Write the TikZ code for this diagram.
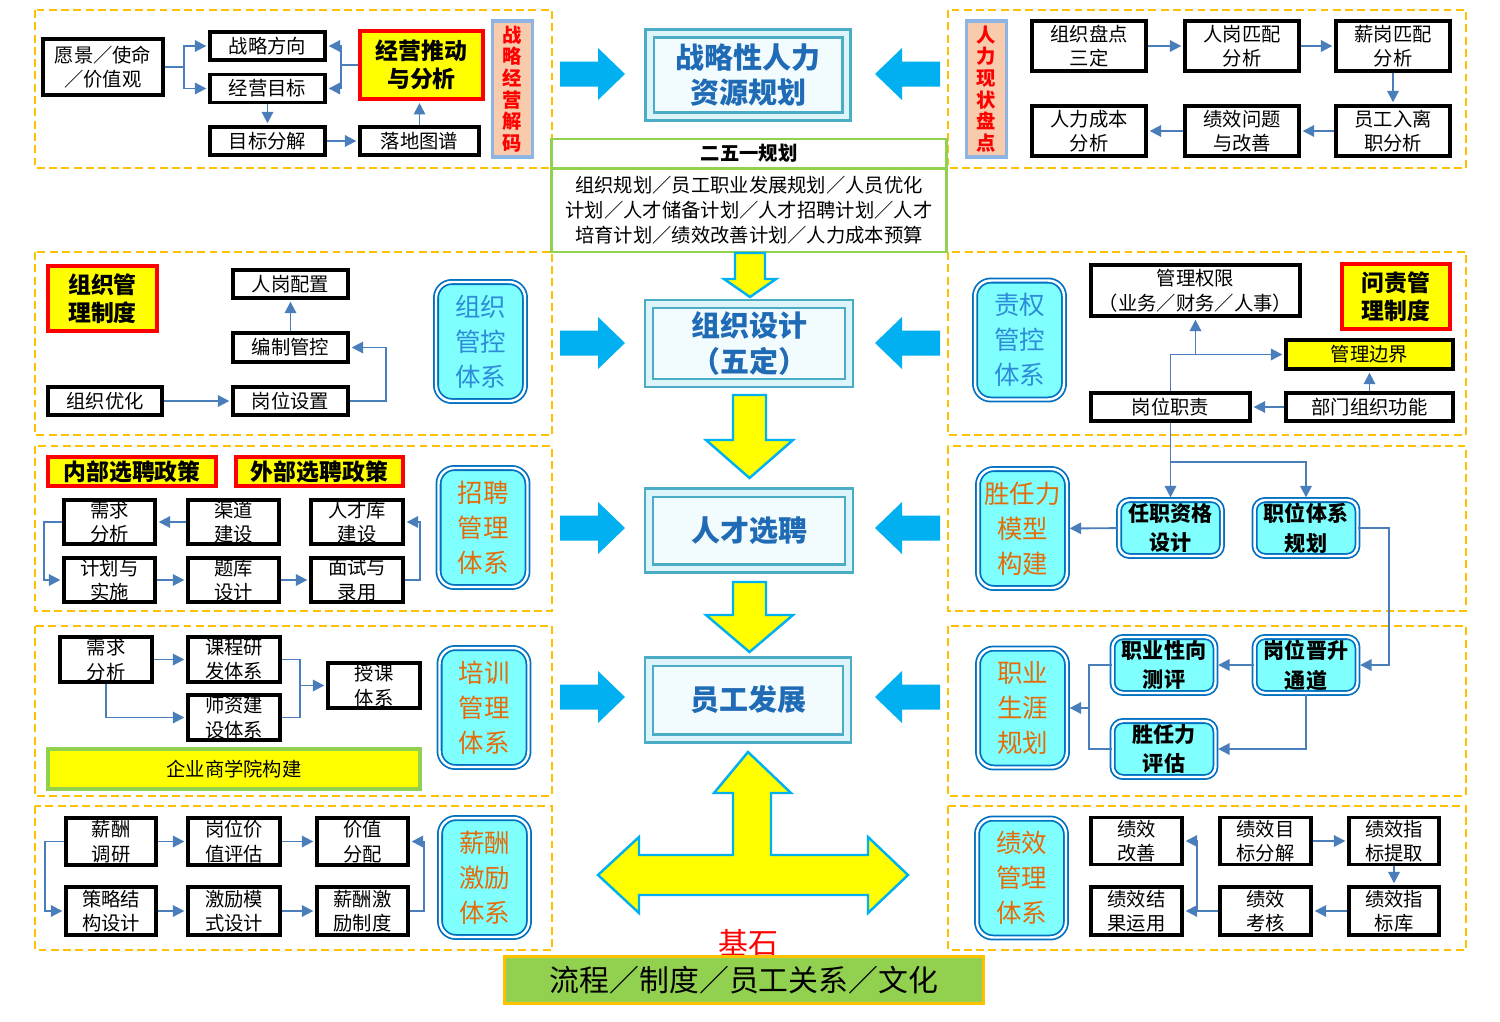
\documentclass[tikz,border=0pt]{standalone}
\usepackage{fontspec}
\setmainfont{Noto Sans CJK SC}
\usetikzlibrary{arrows.meta, shadows}
\definecolor{cFrame}{HTML}{FFC000}
\definecolor{cLine}{HTML}{4A7EBB}
\definecolor{cRed}{HTML}{FF0000}
\definecolor{cYellow}{HTML}{FFFF00}
\definecolor{cPeach}{HTML}{F8CBAD}
\definecolor{cTagLine}{HTML}{8EB4E3}
\definecolor{cGreen}{HTML}{92D050}
\definecolor{cCyan}{HTML}{80FFFF}
\definecolor{cSysLine}{HTML}{0070C0}
\definecolor{cSysBlue}{HTML}{2E8BD8}
\definecolor{cSysOrange}{HTML}{E36C0A}
\definecolor{cTeal}{HTML}{4BACC6}
\definecolor{cBand}{HTML}{DDF4FA}
\definecolor{cInner}{HTML}{F2FBFE}
\definecolor{cTitle}{HTML}{1F6BB5}
\definecolor{cBlock}{HTML}{00B0F0}
\newcommand{\fntbox}{\fontsize{11}{14}\selectfont}
\newcommand{\fntred}{\fontsize{13}{16}\selectfont}
\newcommand{\fnttag}{\fontsize{11}{12.3}\selectfont}
\newcommand{\fntsys}{\fontsize{14.5}{20}\selectfont}
\newcommand{\fntsbox}{\fontsize{12}{17}\selectfont}
\newcommand{\fnttitle}{\fontsize{16.5}{20}\selectfont}
\newcommand{\fntplan}{\fontsize{11}{14.2}\selectfont}
\newcommand{\fntbig}{\fontsize{17}{20}\selectfont}

\begin{document}
\begin{tikzpicture}[x=0.02cm, y=-0.02cm,
  region/.style={draw=cFrame, line width=1.6pt, dash pattern=on 4.5pt off 2.5pt},
  bbox/.style 2 args={draw=black, fill=white, line width=2.2pt, inner sep=0pt,
    align=center, font=\fntbox, minimum width=#1, minimum height=#2},
  rbox/.style 2 args={draw=cRed, fill=cYellow, line width=2.6pt, inner sep=0pt,
    align=center, font=\bfseries\fntred, minimum width=#1, minimum height=#2},
  tagbox/.style={draw=cTagLine, fill=cPeach, line width=2.2pt, inner sep=0pt,
    align=center, text=cRed, font=\bfseries\fnttag,
    minimum width=0.8cm, minimum height=2.72cm},
  sysbox/.style={draw=cSysLine, double=white, double distance=1.4pt, line width=1pt,
    fill=cCyan, rounded corners=9pt, align=center, font=\fntsys, text=#1,
    minimum width=1.78cm, minimum height=2.38cm, inner sep=0pt},
  sbox/.style={draw=cSysLine, double=white, double distance=1.4pt, line width=1pt,
    fill=cCyan, rounded corners=6pt, align=center, font=\bfseries\fntsbox,
    minimum width=2.06cm, minimum height=1.12cm, inner sep=0pt},
  cbox/.style 2 args={draw=cTeal, double=cBand, double distance=3.4pt, line width=1.2pt,
    fill=cInner, align=center, font=\bfseries\fnttitle, text=cTitle,
    minimum width=#1, minimum height=#2,
    drop shadow={opacity=0.35, shadow xshift=1.5pt, shadow yshift=-2pt}},
  planbox/.style={draw=cGreen, fill=white, line width=1.7pt, inner sep=0pt,
    align=center, minimum width=7.92cm},
  conn/.style={draw=cLine, line width=1.1pt, shorten >=1pt,
    -{Triangle[length=6.5pt, width=6.5pt]}},
  wire/.style={draw=cLine, line width=1.1pt},
  yarr/.style={fill=cYellow, draw=cBlock, line width=1.4pt, line join=miter},
  barrow/.pic={\fill[cBlock] (-65,-12.5) -- (-27,-12.5) -- (-27,-26) -- (0,0)
    -- (-27,26) -- (-27,12.5) -- (-65,12.5) -- cycle;}
]
\useasboundingbox (0,0) rectangle (1500,1021);

% dashed regions
\foreach \ya/\yb in {10/168, 252/435, 446/611, 626/796, 806/950} {
  \draw[region] (35,\ya) rectangle (552,\yb);
  \draw[region] (948,\ya) rectangle (1466,\yb);
}

% top left
\node[bbox={2.4cm}{1.12cm}] (vision) at (103,67) {愿景／使命\\／价值观};
\node[bbox={2.3cm}{0.56cm}] (zlfx) at (267.5,46) {战略方向};
\node[bbox={2.3cm}{0.56cm}] (jymb) at (267.5,88.5) {经营目标};
\node[rbox={2.46cm}{1.36cm}] (jytd) at (421.5,65) {经营推动\\与分析};
\node[bbox={2.3cm}{0.56cm}] (mbfj) at (267.5,141) {目标分解};
\node[bbox={2.38cm}{0.56cm}] (ldtp) at (419.5,141) {落地图谱};
\node[tagbox] (zljm) at (512.5,89) {战\\略\\经\\营\\解\\码};

% top right
\node[tagbox] (rlpd) at (986.5,89) {人\\力\\现\\状\\盘\\点};
\node[bbox={2.28cm}{1.0cm}] (zzpd) at (1089,46) {组织盘点\\三定};
\node[bbox={2.28cm}{1.0cm}] (rgpp) at (1242,46) {人岗匹配\\分析};
\node[bbox={2.28cm}{1.0cm}] (xgpp) at (1393,46) {薪岗匹配\\分析};
\node[bbox={2.28cm}{1.0cm}] (rlcb) at (1089,131) {人力成本\\分析};
\node[bbox={2.28cm}{1.0cm}] (jxwt) at (1242,131) {绩效问题\\与改善};
\node[bbox={2.28cm}{1.0cm}] (ygrl) at (1393,131) {员工入离\\职分析};

% centre column
\node[cbox={3.94cm}{1.66cm}] (zlgh) at (748,75) {战略性人力\\资源规划};
\node[planbox, minimum height=0.58cm, font=\bfseries\fntbox] (plan) at (749,153.5) {二五一规划};
\node[planbox, minimum height=1.68cm, font=\fntplan] (plantxt) at (749,210)
  {组织规划／员工职业发展规划／人员优化\\计划／人才储备计划／人才招聘计划／人才\\培育计划／绩效改善计划／人力成本预算};
\node[cbox={4.0cm}{1.58cm}] (zzsj) at (749,343.5) {组织设计\\（五定）};
\node[cbox={4.0cm}{1.52cm}] (rcxp) at (749,530.5) {人才选聘};
\node[cbox={3.96cm}{1.54cm}] (ygfz) at (748,700) {员工发展};

\foreach \y in {74, 343, 528, 697} {
  \pic at (625,\y) {barrow};
  \pic[rotate=180] at (875,\y) {barrow};
}

\draw[yarr] (735,253) -- (765,253) -- (765,279) -- (776,279) -- (750,297)
  -- (724,279) -- (735,279) -- cycle;
\draw[yarr] (733,395) -- (766,395) -- (766,440) -- (793,440) -- (749.5,478)
  -- (706,440) -- (733,440) -- cycle;
\draw[yarr] (733,582) -- (766,582) -- (766,615) -- (793,615) -- (749.5,652)
  -- (706,615) -- (733,615) -- cycle;
\draw[yarr] (748,752) -- (791,793) -- (771,793) -- (771,855) -- (868,855)
  -- (868,837) -- (908,875) -- (868,913) -- (868,895) -- (639,895)
  -- (639,913) -- (598,875) -- (639,837) -- (639,855) -- (733,855)
  -- (733,793) -- (714,793) -- cycle;

\node[text=cRed, font=\fntbig] (jishi) at (748,943) {基石};
\node[draw=cFrame, fill=cGreen, line width=1.7pt, minimum width=9.58cm,
  minimum height=0.94cm, font=\fntbig] (base) at (744,980) {流程／制度／员工关系／文化};

% row 2
\node[rbox={2.18cm}{1.3cm}] (zzzd) at (102.5,298.5) {组织管\\理制度};
\node[bbox={2.3cm}{0.56cm}] (rgpz) at (290.5,284) {人岗配置};
\node[bbox={2.3cm}{0.58cm}] (bzgk) at (290.5,347.5) {编制管控};
\node[bbox={2.28cm}{0.56cm}] (zzyh) at (105,401) {组织优化};
\node[bbox={2.3cm}{0.56cm}] (gwsz) at (290.5,401) {岗位设置};
\node[sysbox=cSysBlue] (zzgk) at (480.5,341.5) {组织\\管控\\体系};

\node[sysbox=cSysBlue] (zqgk) at (1019.5,340) {责权\\管控\\体系};
\node[bbox={4.18cm}{1.02cm}] (glqx) at (1195.5,290.5) {管理权限\\（业务／财务／人事）};
\node[rbox={2.16cm}{1.3cm}] (wzzd) at (1396,296.5) {问责管\\理制度};
\node[bbox={3.34cm}{0.58cm}, fill=cYellow] (glbj) at (1369.5,354.5) {管理边界};
\node[bbox={3.18cm}{0.56cm}] (gwzz) at (1170.5,407) {岗位职责};
\node[bbox={3.34cm}{0.56cm}] (bmgn) at (1369.5,407) {部门组织功能};

% row 3
\node[rbox={3.36cm}{0.58cm}] (nbzp) at (132,471.5) {内部选聘政策};
\node[rbox={3.34cm}{0.58cm}] (wbzp) at (319.5,471.5) {外部选聘政策};
\node[bbox={1.82cm}{0.88cm}] (xqfx) at (109.5,522) {需求\\分析};
\node[bbox={1.82cm}{0.88cm}] (qdjs) at (233.5,522) {渠道\\建设};
\node[bbox={1.84cm}{0.88cm}] (rckjs) at (357,522) {人才库\\建设};
\node[bbox={1.82cm}{0.88cm}] (jhss) at (109.5,580) {计划与\\实施};
\node[bbox={1.82cm}{0.88cm}] (tksj) at (233.5,580) {题库\\设计};
\node[bbox={1.84cm}{0.88cm}] (msly) at (357,580) {面试与\\录用};
\node[sysbox=cSysOrange] (zpgl) at (483,527.5) {招聘\\管理\\体系};

\node[sysbox=cSysOrange] (srlmx) at (1022.5,528.5) {胜任力\\模型\\构建};
\node[sbox] (rzzg) at (1170.5,528) {任职资格\\设计};
\node[sbox] (zwtx) at (1306,528) {职位体系\\规划};

% row 4
\node[bbox={1.84cm}{0.9cm}] (xqfx2) at (106,659.5) {需求\\分析};
\node[bbox={1.84cm}{0.9cm}] (kcyf) at (234,659.5) {课程研\\发体系};
\node[bbox={1.84cm}{0.9cm}] (szjs) at (234,717.5) {师资建\\设体系};
\node[bbox={1.84cm}{0.9cm}] (skxt) at (374,685.5) {授课\\体系};
\node[draw=cGreen, fill=cYellow, line width=2.2pt, minimum width=7.44cm,
  minimum height=0.8cm, font=\fntbox] (sxy) at (234,769) {企业商学院构建};
\node[sysbox=cSysOrange] (pxgl) at (484,707.5) {培训\\管理\\体系};

\node[sysbox=cSysOrange] (zysy) at (1022.5,708) {职业\\生涯\\规划};
\node[sbox] (zyxx) at (1164,665) {职业性向\\测评};
\node[sbox] (gwjs) at (1306,665) {岗位晋升\\通道};
\node[sbox] (srlpg) at (1164,749) {胜任力\\评估};

% row 5
\node[bbox={1.8cm}{0.94cm}] (xcdy) at (111,841.5) {薪酬\\调研};
\node[bbox={1.84cm}{0.94cm}] (gwjz) at (234,841.5) {岗位价\\值评估};
\node[bbox={1.82cm}{0.94cm}] (jzfp) at (362.5,841.5) {价值\\分配};
\node[bbox={1.8cm}{0.96cm}] (cljg) at (111,911) {策略结\\构设计};
\node[bbox={1.84cm}{0.96cm}] (jlms) at (234,911) {激励模\\式设计};
\node[bbox={1.82cm}{0.96cm}] (xcjl) at (362.5,911) {薪酬激\\励制度};
\node[sysbox=cSysOrange] (xcjltx) at (484.5,877.5) {薪酬\\激励\\体系};

\node[sysbox=cSysOrange] (jxgl) at (1021.5,878) {绩效\\管理\\体系};
\node[bbox={1.82cm}{0.94cm}] (jxgs) at (1136.5,841) {绩效\\改善};
\node[bbox={1.82cm}{0.94cm}] (jxmb) at (1265.5,841) {绩效目\\标分解};
\node[bbox={1.8cm}{0.94cm}] (jxtq) at (1394,841) {绩效指\\标提取};
\node[bbox={1.82cm}{0.96cm}] (jxyy) at (1136.5,911) {绩效结\\果运用};
\node[bbox={1.82cm}{0.96cm}] (jxkh) at (1265.5,911) {绩效\\考核};
\node[bbox={1.8cm}{0.96cm}] (jxzk) at (1394,911) {绩效指\\标库};

% connectors
\draw[conn] (vision.east) -- ++(19,0) |- (zlfx.west);
\draw[conn] (vision.east) -- ++(19,0) |- (jymb.west);
\draw[conn] (jytd.west) -- ++(-17,0) |- (zlfx.east);
\draw[conn] (jytd.west) -- ++(-17,0) |- (jymb.east);
\draw[conn] (jymb) -- (mbfj);
\draw[conn] (mbfj) -- (ldtp);
\draw[conn] (ldtp.north) -- (ldtp.north |- jytd.south);

\draw[conn] (zzpd) -- (rgpp);
\draw[conn] (rgpp) -- (xgpp);
\draw[conn] (xgpp) -- (ygrl);
\draw[conn] (ygrl) -- (jxwt);
\draw[conn] (jxwt) -- (rlcb);

\draw[conn] (zzyh) -- (gwsz);
\draw[conn] (gwsz.east) -- ++(36,0) |- (bzgk.east);
\draw[conn] (bzgk) -- (rgpz);

\draw[conn] (bmgn) -- (gwzz);
\draw[conn] (bmgn) -- (glbj);
\draw[conn] (gwzz.north) |- (glbj.west);
\draw[conn] (glqx.south |- glbj.west) -- (glqx.south);
\draw[conn] (gwzz.south) -- (rzzg.north);
\draw[conn] (gwzz.south) -- ++(0,39) -| (zwtx.north);

\draw[conn] (qdjs) -- (xqfx);
\draw[conn] (xqfx.west) -- ++(-18,0) |- (jhss.west);
\draw[conn] (jhss) -- (tksj);
\draw[conn] (tksj) -- (msly);
\draw[conn] (msly.east) -- ++(15,0) |- (rckjs.east);

\draw[conn] (rzzg) -- (srlmx);
\draw[conn] (zwtx.east) -- ++(31,0) |- (gwjs.east);

\draw[conn] (xqfx2) -- (kcyf);
\draw[conn] (xqfx2.south) |- (szjs.west);
\coordinate (jn4) at (300,685.5);
\draw[wire] (kcyf.east) -| (jn4);
\draw[wire] (szjs.east) -| (jn4);
\draw[conn] (jn4) -- (skxt.west);

\draw[conn] (gwjs) -- (zyxx);
\draw[conn] (gwjs.south) |- (srlpg.east);
\coordinate (jn5) at (1089,708);
\draw[wire] (zyxx.west) -| (jn5) |- (srlpg.west);
\draw[conn] (jn5) -- (zysy.east);

\draw[conn] (xcdy) -- (gwjz);
\draw[conn] (gwjz) -- (jzfp);
\draw[conn] (xcdy.west) -- ++(-19,0) |- (cljg.west);
\draw[conn] (cljg) -- (jlms);
\draw[conn] (jlms) -- (xcjl);
\draw[conn] (xcjl.east) -- ++(14,0) |- (jzfp.east);

\draw[conn] (jxmb) -- (jxtq);
\draw[conn] (jxtq) -- (jxzk);
\draw[conn] (jxzk) -- (jxkh);
\draw[conn] (jxkh) -- (jxyy);
\coordinate (jn6) at (1197,911);
\draw[conn] (jn6) |- (jxgs.east);

\end{tikzpicture}
\end{document}
